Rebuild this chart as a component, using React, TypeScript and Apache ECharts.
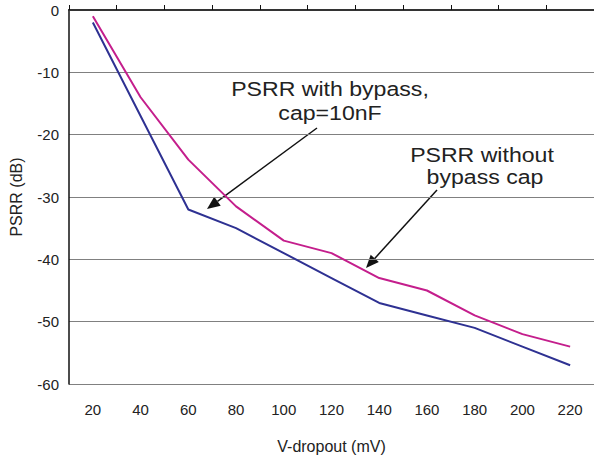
import React, { useEffect, useRef } from "react";
import * as echarts from "echarts";

const categories = ["20", "40", "60", "80", "100", "120", "140", "160", "180", "200", "220"];
const withBypass = [-2, -17, -32, -35, -39, -43, -47, -49, -51, -54, -57];
const withoutBypass = [-1, -14, -24, -31.5, -37, -39, -43, -45, -49, -52, -54];
const yTicks = { min: -60, max: 0, interval: 10 };

const FONT = "'Liberation Sans', Arial, sans-serif";

function arrow(x1: number, y1: number, x2: number, y2: number) {
  const dx = x2 - x1;
  const dy = y2 - y1;
  const len = Math.sqrt(dx * dx + dy * dy);
  const ux = dx / len;
  const uy = dy / len;
  const hl = 13;
  const hw = 5.5;
  const bx = x2 - ux * hl;
  const by = y2 - uy * hl;
  return [
    {
      type: "line",
      shape: { x1, y1, x2: bx, y2: by },
      style: { stroke: "#111", lineWidth: 1.5 },
      silent: true,
    },
    {
      type: "polygon",
      shape: {
        points: [
          [x2, y2],
          [bx - uy * hw, by + ux * hw],
          [bx + uy * hw, by - ux * hw],
        ],
      },
      style: { fill: "#111" },
      silent: true,
    },
  ];
}

function label(text: string, x: number, y: number) {
  return {
    type: "text",
    x,
    y,
    scaleX: 1.1,
    style: {
      text,
      fill: "#222",
      font: `21px ${FONT}`,
      textAlign: "center",
      textVerticalAlign: "middle",
    },
    silent: true,
  };
}

export default function App() {
  const ref = useRef<HTMLDivElement>(null);
  useEffect(() => {
    if (!ref.current) return;
    const chart = echarts.init(ref.current, undefined, { renderer: "svg" });
    chart.setOption({
      animation: false,
      backgroundColor: "#ffffff",
      grid: { left: 66, right: 0, top: 10, bottom: 71 },
      xAxis: [
        {
          type: "category",
          data: categories,
          boundaryGap: true,
          name: "V-dropout (mV)",
          nameLocation: "middle",
          nameGap: 54,
          nameTextStyle: { fontFamily: FONT, fontSize: 16, color: "#222" },
          axisLine: { lineStyle: { color: "#111", width: 1.5 } },
          axisTick: { show: true, inside: true, length: 5, lineStyle: { color: "#111" } },
          axisLabel: { fontFamily: FONT, fontSize: 15, color: "#222", margin: 18 },
          splitLine: { show: false },
        },
        {
          type: "category",
          data: categories,
          position: "top",
          axisLine: { show: true, lineStyle: { color: "#333", width: 2 } },
          axisTick: { show: false },
          axisLabel: { show: false },
          splitLine: { show: false },
        },
      ],
      yAxis: {
        type: "value",
        min: yTicks.min,
        max: yTicks.max,
        interval: yTicks.interval,
        name: "PSRR (dB)",
        nameLocation: "middle",
        nameGap: 45,
        nameTextStyle: { fontFamily: FONT, fontSize: 16, color: "#222" },
        axisLine: { show: true, lineStyle: { color: "#111", width: 1.5 } },
        axisTick: { show: false },
        axisLabel: { fontFamily: FONT, fontSize: 15, color: "#222", margin: 10 },
        splitLine: { show: true, lineStyle: { color: "#808080", width: 1 } },
      },
      series: [
        {
          name: "PSRR with bypass, cap=10nF",
          type: "line",
          data: withBypass,
          symbol: "none",
          lineStyle: { color: "#2e3192", width: 2 },
          itemStyle: { color: "#2e3192" },
        },
        {
          name: "PSRR without bypass cap",
          type: "line",
          data: withoutBypass,
          symbol: "none",
          lineStyle: { color: "#c41e8c", width: 2 },
          itemStyle: { color: "#c41e8c" },
        },
      ],
      graphic: [
        label("PSRR with bypass,", 330, 89),
        label("cap=10nF", 330, 113),
        label("PSRR without", 482, 155),
        label("bypass cap", 485, 177),
        ...arrow(317, 128, 207, 209),
        ...arrow(437, 190, 366, 268),
      ],
    });
    return () => chart.dispose();
  }, []);
  return (
    <div
      ref={ref}
      style={{ position: "fixed", left: 0, top: 0, width: 594, height: 459, background: "#fff" }}
    />
  );
}
